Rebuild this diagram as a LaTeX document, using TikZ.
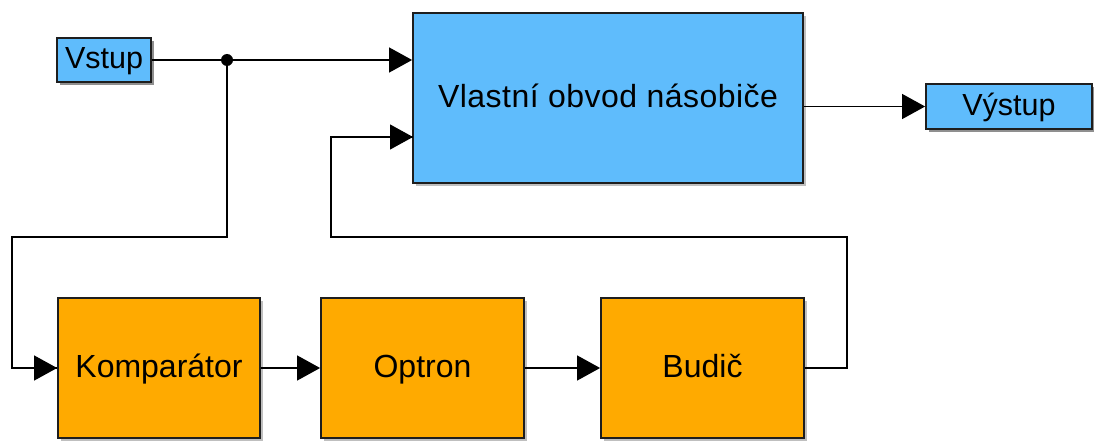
\documentclass[tikz,border=0pt]{standalone}
\usepackage{fontspec}
\setmainfont{Liberation Sans}
\usetikzlibrary{arrows.meta,shadows,calc}
\definecolor{blk}{HTML}{5FBCFC}
\definecolor{org}{HTML}{FFAA00}
\definecolor{edge}{HTML}{1E1E1E}
\begin{document}
\begin{tikzpicture}[x=1pt,y=-1pt,
  box/.style={draw=edge, line width=1.8pt, inner sep=0pt, align=center,
    text height=24pt, text depth=6pt,
    font=\fontsize{32}{38}\selectfont,
    drop shadow={shadow xshift=3pt, shadow yshift=-3pt, fill=black, opacity=0.25}},
  smallbox/.style={box, font=\fontsize{30.5}{36}\selectfont},
  bluebox/.style={box, fill=blk},
  orangebox/.style={box, fill=org},
  wire/.style={line width=1.2pt, draw=black},
  arr/.style={wire, -{Triangle[length=23pt,width=25pt]}}]
\useasboundingbox (0,0) rectangle (1094,441);
\node[bluebox, smallbox, minimum width=94pt, minimum height=44pt] (vstup) at (104,60) {Vstup};
\node[bluebox, minimum width=390pt, minimum height=170pt] (main) at (608,98) {\addfontfeature{LetterSpace=1.5}Vlastní obvod násobiče};
\node[bluebox, smallbox, minimum width=166pt, minimum height=45pt] (vystup) at (1009,106.5) {Výstup};
\node[orangebox, minimum width=202pt, minimum height=140pt] (komp) at (159,368) {Komparátor};
\node[orangebox, minimum width=203pt, minimum height=140pt] (opt) at (422.5,368) {Optron};
\node[orangebox, minimum width=203pt, minimum height=140pt] (bud) at (702.5,368) {Budič};
\coordinate (j) at (227,60);
\coordinate (in2) at (413,137);
\draw[arr] (vstup.east) -- (vstup.east -| main.west);
\fill (j) circle (6pt);
\draw[wire] (j) -- (227,237) -- (12,237) -- (12,368) -- (komp.west);
\draw[arr] (12,368) -- (komp.west);
\draw[arr] (komp.east) -- (opt.west);
\draw[arr] (opt.east) -- (bud.west);
\draw[wire] (bud.east) -- (847,368) -- (847,237) -- (331,237) -- (331,137) -- (in2);
\draw[arr] (331,137) -- (in2);
\draw[arr] (main.east |- vystup.west) -- (vystup.west);
\end{tikzpicture}
\end{document}
